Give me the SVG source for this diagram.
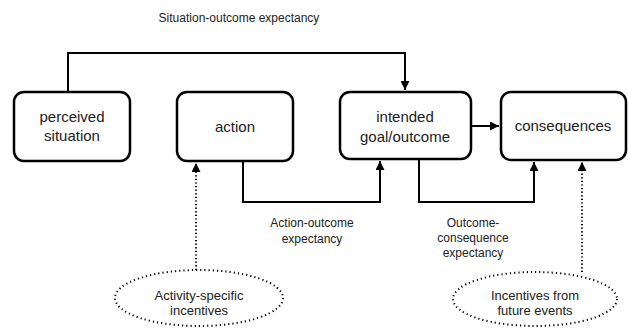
<svg xmlns="http://www.w3.org/2000/svg" width="628" height="331" viewBox="0 0 628 331">
<defs>
<marker id="ah" viewBox="0 0 10 10" refX="10" refY="5" markerWidth="4.5" markerHeight="4.5" orient="auto" markerUnits="strokeWidth">
<path d="M0,0 L10,5 L0,10 z" fill="#000"/>
</marker>
<style>
.node{fill:#fff;stroke:#000;stroke-width:2.5}
.nt{font-family:"Liberation Sans",Arial,sans-serif;font-size:15px;fill:#222;text-anchor:middle}
.lbl{font-family:"Liberation Sans",Arial,sans-serif;font-size:12px;fill:#222;text-anchor:middle}
.et{font-family:"Liberation Sans",Arial,sans-serif;font-size:13px;fill:#222;text-anchor:middle}
.c{fill:none;stroke:#000;stroke-width:2}
.d{fill:none;stroke:#000;stroke-width:2;stroke-dasharray:1.2 2.4}
.ell{fill:#fff;stroke:#000;stroke-width:2;stroke-dasharray:1.2 3}
</style>
</defs>
<rect width="628" height="331" fill="#fff"/>
<g id="connectors">
<path class="c" d="M68,92 V53 H405 V90" marker-end="url(#ah)"/>
<path class="c" d="M471,126 H499" marker-end="url(#ah)"/>
<path class="c" d="M243,161 V202 H380 V161" marker-end="url(#ah)"/>
<path class="c" d="M419,159 V202 H534 V162" marker-end="url(#ah)"/>
<path class="d" d="M196,270 V163" marker-end="url(#ah)"/>
<path class="d" d="M582,272 V162" marker-end="url(#ah)"/>
</g>
<g id="label-situation-outcome"><text class="lbl" x="239" y="22">Situation-outcome expectancy</text></g>
<g id="label-action-outcome"><text class="lbl" x="312" y="227">Action-outcome</text><text class="lbl" x="312" y="243">expectancy</text></g>
<g id="label-outcome-consequence"><text class="lbl" x="473" y="227">Outcome-</text><text class="lbl" x="473" y="242">consequence</text><text class="lbl" x="473" y="257">expectancy</text></g>
<g id="perceived-situation"><rect class="node" x="14" y="92" width="116" height="69" rx="10"/><text class="nt" x="72" y="122">perceived</text><text class="nt" x="72" y="141">situation</text></g>
<g id="action"><rect class="node" x="177" y="92" width="116" height="69" rx="10"/><text class="nt" x="235" y="132">action</text></g>
<g id="intended-goal"><rect class="node" x="340" y="92" width="131" height="67" rx="10"/><text class="nt" x="405" y="122">intended</text><text class="nt" x="405" y="142">goal/outcome</text></g>
<g id="consequences"><rect class="node" x="501" y="92" width="125" height="68" rx="10"/><text class="nt" x="563" y="131">consequences</text></g>
<g id="activity-specific-incentives"><ellipse class="ell" cx="199" cy="298" rx="84" ry="28"/><text class="et" x="199" y="300">Activity-specific</text><text class="et" x="199" y="315">incentives</text></g>
<g id="incentives-future-events"><ellipse class="ell" cx="535" cy="299" rx="82" ry="27"/><text class="et" x="535" y="300">Incentives from</text><text class="et" x="535" y="315">future events</text></g>
</svg>
